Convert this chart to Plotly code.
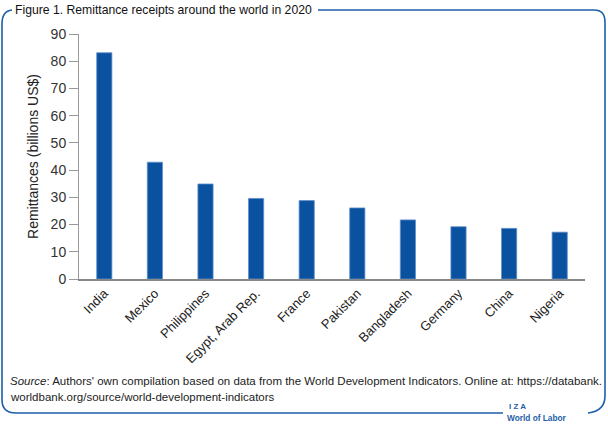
import plotly.graph_objects as go

countries = ["India", "Mexico", "Philippines", "Egypt, Arab Rep.", "France",
             "Pakistan", "Bangladesh", "Germany", "China", "Nigeria"]
remittances = [83.1, 42.9, 34.9, 29.6, 28.8, 26.1, 21.7, 19.2, 18.6, 17.2]
y_ticks = [0, 10, 20, 30, 40, 50, 60, 70, 80, 90]

W, H = 608, 426
L, R, T, B = 79, 585, 34, 279

def px(x):
    return (x - L) / (R - L)

def py(y):
    return (B - y) / (B - T)

BLUE = "#1f5fa8"
BAR = "#0a51a0"
NARROW = "Liberation Sans Narrow, Arial Narrow, Liberation Sans, Arial, sans-serif"

fig = go.Figure()
fig.add_trace(go.Bar(
    x=countries, y=remittances,
    marker=dict(color=BAR, line=dict(color="#5f8fca", width=0.8)),
    width=0.30,
))

def P(x, y):
    return f"{px(x):.5f},{py(y):.5f}"

frame_right = (f"M {P(318,10)} L {P(594,10)} Q {P(605,10)} {P(605,22)} "
               f"L {P(605,396)} Q {P(605,411)} {P(588,413)} ")
frame_left = (f"M {P(503,413)} L {P(16,413)} Q {P(2,413)} {P(2,400)} "
              f"L {P(2,24)} Q {P(2,11)} {P(12,10)}")
shapes = [
    dict(type="path", xref="paper", yref="paper", path=frame_right,
         line=dict(color=BLUE, width=1.6)),
    dict(type="path", xref="paper", yref="paper", path=frame_left,
         line=dict(color=BLUE, width=1.6)),
]

annotations = [
    dict(text="Figure 1. Remittance receipts around the world in 2020",
         xref="paper", yref="paper", x=px(13), y=py(10), xanchor="left", yanchor="middle",
         showarrow=False, font=dict(family=NARROW, size=12.2, color="#111")),
    dict(text="<i>Source</i>: Authors' own compilation based on data from the World Development Indicators. Online at: https://databank.",
         xref="paper", yref="paper", x=px(8), y=py(381), xanchor="left", yanchor="middle",
         showarrow=False, font=dict(family=NARROW, size=11.5, color="#222")),
    dict(text="worldbank.org/source/world-development-indicators",
         xref="paper", yref="paper", x=px(8), y=py(397), xanchor="left", yanchor="middle",
         showarrow=False, font=dict(family=NARROW, size=11.5, color="#222")),
    dict(text="<b>I Z A</b>",
         xref="paper", yref="paper", x=px(507), y=py(406), xanchor="left", yanchor="middle",
         showarrow=False, font=dict(family="Arial, sans-serif", size=8, color=BLUE)),
    dict(text="<b>World of Labor</b>",
         xref="paper", yref="paper", x=px(505), y=py(418), xanchor="left", yanchor="middle",
         showarrow=False, font=dict(family="Arial, sans-serif", size=8.3, color=BLUE)),
]

fig.update_layout(
    width=W, height=H,
    margin=dict(l=L, r=W - R, t=T, b=H - B),
    paper_bgcolor="white", plot_bgcolor="white",
    showlegend=False,
    shapes=shapes, annotations=annotations,
    font=dict(family="Arial, Liberation Sans, sans-serif", color="#222"),
    xaxis=dict(
        tickangle=-45, tickfont=dict(size=13, color="#222"),
        showline=True, linecolor="#888", linewidth=1.5,
        ticks="", showgrid=False, range=[-0.5, 9.5],
    ),
    yaxis=dict(
        range=[0, 90], tickvals=y_ticks, tickfont=dict(size=14, color="#333"),
        showline=True, linecolor="#999", linewidth=1,
        ticks="outside", ticklen=9, tickcolor="#999",
        showgrid=False, zeroline=False,
        title=dict(text="Remittances (billions US$)", font=dict(size=14, color="#222"), standoff=8),
    ),
)

fig.write_html("out.html")
